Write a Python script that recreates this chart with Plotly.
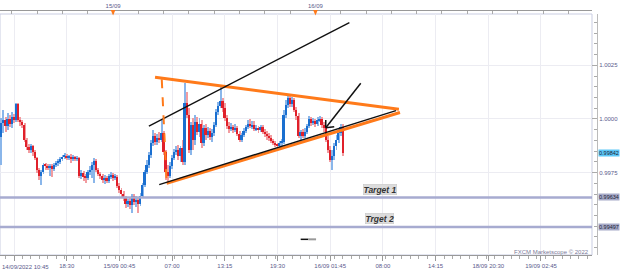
import plotly.graph_objects as go

# ---------------- data (15-min candles, x = candle index) ----------------
idx = list(range(-6, 157))

open_ = [
0.99916, 0.99981, 0.99995, 0.99967, 1.00000, 0.99977,
1.00009, 0.99995, 1.00070, 0.99995, 0.99986, 0.99972, 0.99902, 0.99869, 0.99855, 0.99874,
0.99846, 0.99818, 0.99762, 0.99734, 0.99753, 0.99786, 0.99781, 0.99772, 0.99781, 0.99767,
0.99786, 0.99795, 0.99800, 0.99814, 0.99823, 0.99828, 0.99818, 0.99823, 0.99814, 0.99823,
0.99814, 0.99818, 0.99734, 0.99748, 0.99730, 0.99725, 0.99753, 0.99762, 0.99786, 0.99804,
0.99762, 0.99744, 0.99734, 0.99716, 0.99725, 0.99711, 0.99734, 0.99739, 0.99725, 0.99730,
0.99688, 0.99669, 0.99650, 0.99632, 0.99604, 0.99618, 0.99599, 0.99641, 0.99613, 0.99623,
0.99604, 0.99641, 0.99692, 0.99753, 0.99786, 0.99832, 0.99888, 0.99921, 0.99893, 0.99911,
0.99902, 0.99935, 0.99846, 0.99753, 0.99734, 0.99781, 0.99818, 0.99846, 0.99855, 0.99828,
0.99865, 0.99800, 1.00075, 1.00019, 0.99855, 0.99972, 0.99902, 0.99986, 0.99939, 0.99977,
0.99888, 0.99958, 0.99925, 0.99944, 0.99916, 0.99935, 0.99972, 1.00033, 1.00061, 1.00084,
1.00051, 1.00005, 0.99967, 0.99953, 0.99963, 0.99949, 0.99958, 0.99930, 0.99902, 0.99925,
0.99944, 0.99963, 0.99977, 0.99967, 0.99972, 0.99953, 0.99958, 0.99949, 0.99963, 0.99939,
0.99930, 0.99921, 0.99911, 0.99897, 0.99888, 0.99879, 0.99874, 0.99888, 0.99893, 1.00019,
1.00065, 1.00098, 1.00070, 1.00089, 1.00042, 1.00014, 0.99921, 0.99939, 0.99921, 0.99939,
0.99967, 1.00000, 0.99981, 0.99991, 0.99977, 0.99995, 1.00000, 0.99972, 0.99958, 0.99902,
0.99855, 0.99809, 0.99828, 0.99874, 0.99902, 0.99935, 0.99963,
]
high = [
1.00005, 1.00042, 1.00009, 1.00028, 1.00019, 1.00033,
1.00023, 1.00075, 1.00075, 1.00009, 0.99995, 0.99981, 0.99911, 0.99883, 0.99883, 0.99879,
0.99855, 0.99823, 0.99772, 0.99762, 0.99795, 0.99795, 0.99790, 0.99790, 0.99790, 0.99795,
0.99804, 0.99814, 0.99823, 0.99832, 0.99842, 0.99837, 0.99832, 0.99837, 0.99832, 0.99828,
0.99828, 0.99823, 0.99762, 0.99758, 0.99744, 0.99762, 0.99781, 0.99800, 0.99818, 0.99814,
0.99772, 0.99753, 0.99744, 0.99739, 0.99734, 0.99744, 0.99753, 0.99748, 0.99744, 0.99739,
0.99702, 0.99678, 0.99664, 0.99641, 0.99627, 0.99637, 0.99650, 0.99650, 0.99641, 0.99637,
0.99655, 0.99702, 0.99762, 0.99809, 0.99846, 0.99902, 0.99949, 0.99935, 0.99930, 0.99939,
0.99995, 0.99944, 0.99855, 0.99786, 0.99800, 0.99832, 0.99860, 0.99874, 0.99879, 0.99874,
0.99902, 1.00168, 1.00126, 1.00051, 0.99986, 1.00005, 1.00019, 1.00009, 1.00005, 0.99995,
0.99972, 0.99977, 0.99963, 0.99958, 0.99953, 0.99986, 1.00047, 1.00079, 1.00149, 1.00098,
1.00075, 1.00019, 0.99986, 0.99981, 0.99972, 0.99977, 0.99967, 0.99944, 0.99935, 0.99958,
0.99972, 0.99995, 1.00000, 0.99991, 0.99991, 0.99972, 0.99967, 0.99972, 0.99972, 0.99953,
0.99944, 0.99935, 0.99925, 0.99907, 0.99897, 0.99888, 0.99897, 0.99907, 1.00042, 1.00089,
1.00112, 1.00107, 1.00103, 1.00098, 1.00056, 1.00028, 0.99949, 0.99953, 0.99958, 0.99977,
1.00014, 1.00009, 1.00005, 1.00000, 1.00009, 1.00014, 1.00009, 0.99986, 0.99967, 0.99921,
0.99874, 0.99855, 0.99888, 0.99925, 0.99958, 0.99977, 0.99977,
]
low = [
0.99786, 0.99935, 0.99939, 0.99949, 0.99963, 0.99958,
0.99981, 0.99986, 0.99986, 0.99967, 0.99958, 0.99893, 0.99855, 0.99842, 0.99842, 0.99828,
0.99809, 0.99748, 0.99716, 0.99692, 0.99744, 0.99762, 0.99762, 0.99734, 0.99730, 0.99758,
0.99776, 0.99781, 0.99790, 0.99804, 0.99814, 0.99809, 0.99809, 0.99795, 0.99804, 0.99804,
0.99804, 0.99725, 0.99720, 0.99711, 0.99702, 0.99716, 0.99739, 0.99725, 0.99702, 0.99753,
0.99734, 0.99720, 0.99702, 0.99697, 0.99702, 0.99702, 0.99720, 0.99711, 0.99716, 0.99678,
0.99655, 0.99637, 0.99618, 0.99585, 0.99590, 0.99581, 0.99562, 0.99599, 0.99590, 0.99562,
0.99595, 0.99632, 0.99683, 0.99744, 0.99772, 0.99818, 0.99874, 0.99879, 0.99879, 0.99888,
0.99893, 0.99832, 0.99716, 0.99702, 0.99725, 0.99767, 0.99809, 0.99832, 0.99809, 0.99800,
0.99786, 0.99786, 1.00005, 0.99842, 0.99832, 0.99855, 0.99879, 0.99925, 0.99916, 0.99865,
0.99874, 0.99902, 0.99911, 0.99902, 0.99893, 0.99921, 0.99963, 1.00019, 1.00051, 1.00033,
0.99991, 0.99953, 0.99935, 0.99944, 0.99935, 0.99939, 0.99921, 0.99893, 0.99893, 0.99916,
0.99935, 0.99953, 0.99958, 0.99953, 0.99944, 0.99944, 0.99935, 0.99939, 0.99930, 0.99916,
0.99902, 0.99897, 0.99888, 0.99879, 0.99869, 0.99865, 0.99865, 0.99874, 0.99883, 1.00005,
1.00051, 1.00056, 1.00056, 1.00033, 0.99995, 0.99911, 0.99902, 0.99911, 0.99911, 0.99930,
0.99958, 0.99967, 0.99972, 0.99963, 0.99967, 0.99986, 0.99958, 0.99939, 0.99893, 0.99842,
0.99800, 0.99762, 0.99809, 0.99855, 0.99888, 0.99921, 0.99828,
]
close = [
0.99981, 0.99995, 0.99967, 1.00000, 0.99977, 1.00009,
0.99995, 1.00070, 0.99995, 0.99986, 0.99972, 0.99902, 0.99869, 0.99855, 0.99874, 0.99846,
0.99818, 0.99762, 0.99734, 0.99753, 0.99786, 0.99781, 0.99772, 0.99781, 0.99767, 0.99786,
0.99795, 0.99800, 0.99814, 0.99823, 0.99828, 0.99818, 0.99823, 0.99814, 0.99823, 0.99814,
0.99818, 0.99734, 0.99748, 0.99730, 0.99725, 0.99753, 0.99762, 0.99786, 0.99804, 0.99762,
0.99744, 0.99734, 0.99716, 0.99725, 0.99711, 0.99734, 0.99739, 0.99725, 0.99730, 0.99688,
0.99669, 0.99650, 0.99632, 0.99604, 0.99618, 0.99599, 0.99641, 0.99613, 0.99623, 0.99604,
0.99641, 0.99692, 0.99753, 0.99786, 0.99832, 0.99888, 0.99921, 0.99893, 0.99911, 0.99902,
0.99935, 0.99846, 0.99753, 0.99734, 0.99781, 0.99818, 0.99846, 0.99855, 0.99828, 0.99865,
0.99800, 1.00075, 1.00019, 0.99855, 0.99972, 0.99902, 0.99986, 0.99939, 0.99977, 0.99888,
0.99958, 0.99925, 0.99944, 0.99916, 0.99935, 0.99972, 1.00033, 1.00061, 1.00084, 1.00051,
1.00005, 0.99967, 0.99953, 0.99963, 0.99949, 0.99958, 0.99930, 0.99902, 0.99925, 0.99944,
0.99963, 0.99977, 0.99967, 0.99972, 0.99953, 0.99958, 0.99949, 0.99963, 0.99939, 0.99930,
0.99921, 0.99911, 0.99897, 0.99888, 0.99879, 0.99874, 0.99888, 0.99893, 1.00019, 1.00065,
1.00098, 1.00070, 1.00089, 1.00042, 1.00014, 0.99921, 0.99939, 0.99921, 0.99939, 0.99967,
1.00000, 0.99981, 0.99991, 0.99977, 0.99995, 1.00000, 0.99972, 0.99958, 0.99902, 0.99855,
0.99809, 0.99828, 0.99874, 0.99902, 0.99935, 0.99963, 0.99842,
]

bottom_tick_idx = [0, 25, 50, 75, 100, 125, 150, 175, 200, 225, 250]
bottom_tick_text = ["14/09/2022 10:45", "18:30", "15/09 00:45", "07:00", "13:15", "19:30",
                    "16/09 01:45", "08:00", "14:15", "18/09 20:30", "19/09 02:45"]
top_tick_idx = [47, 143]
top_tick_text = ["15/09", "16/09"]
price_ticks = [0.9975, 1.0000, 1.0025]
price_tick_text = ["0.9975", "1.0000", "1.0025"]

last_price = 0.99842
targets = [0.99634, 0.99497]
target_names = ["Target 1", "Trget 2"]

# drawings (index, price)
upper_orange = [(66.9, 1.00194), (182.6, 1.00045)]
lower_orange = [(72.4, 0.99700), (183.1, 1.00030)]
lower_black = [(68.9, 0.99694), (181.2, 1.00039)]
upper_black = [(64.0, 0.99967), (159.1, 1.00449)]
dashed_orange = [(70.1, 1.00185), (72.4, 0.99708)]
arrow_tail = (164.5, 1.00166)
arrow_tip = (147.9, 0.99959)
arrow_arm1 = (147.9, 0.99995)
arrow_arm2 = (151.9, 0.99964)
small_seg = [(136.0, 139.6, 143.3), 0.99439]

X_RANGE = [-6.64, 274.2]
Y_RANGE = [0.99366, 1.00489]

BLUE, RED = "#1a6fd0", "#e0202a"
LBLUE, LRED = "#8ab6ea", "#f29ca0"
ORANGE = "#ff7a1a"
TXT = "#5a5a8c"
FONT = "Liberation Sans, Arial, sans-serif"

up = [c >= o for o, c in zip(open_, close)]
wick_base = low
wick_h = [h - l for h, l in zip(high, low)]
body_base = [min(o, c) for o, c in zip(open_, close)]
body_h = [max(abs(c - o), 0.00002) for o, c in zip(open_, close)]

fig = go.Figure()
fig.add_trace(go.Bar(x=idx, y=wick_h, base=wick_base, width=0.45,
                     marker=dict(color=[LBLUE if u else LRED for u in up], line=dict(width=0)),
                     hoverinfo="skip", showlegend=False))
fig.add_trace(go.Bar(x=idx, y=body_h, base=body_base, width=0.8,
                     marker=dict(color=[BLUE if u else RED for u in up], line=dict(width=0)),
                     hoverinfo="skip", showlegend=False))
# invisible trace to activate top axis
fig.add_trace(go.Scatter(x=[idx[0]], y=[close[0]], xaxis="x2", mode="markers",
                         marker=dict(opacity=0), hoverinfo="skip", showlegend=False))

shapes = []
# plot border
shapes.append(dict(type="rect", xref="x domain", yref="y domain", x0=0, x1=1, y0=0, y1=1,
                   line=dict(color="#c9cde2", width=1), layer="below"))
for t in targets:
    shapes.append(dict(type="line", xref="x domain", yref="y", x0=0, x1=1, y0=t, y1=t,
                       line=dict(color="#a7abd0", width=2.5)))

def seg(p, color, width, dash="solid"):
    return dict(type="line", xref="x", yref="y", x0=p[0][0], y0=p[0][1], x1=p[1][0], y1=p[1][1],
                line=dict(color=color, width=width, dash=dash))

shapes.append(seg(upper_orange, ORANGE, 3))
shapes.append(seg(lower_orange, ORANGE, 3))
shapes.append(seg(lower_black, "#111111", 1.4))
shapes.append(seg(upper_black, "#111111", 1.4))
shapes.append(seg(dashed_orange, ORANGE, 2, "dash"))
shapes.append(seg([arrow_tail, arrow_tip], "#111111", 1.5))
shapes.append(seg([arrow_arm1, arrow_tip], "#111111", 1.5))
shapes.append(seg([arrow_arm2, arrow_tip], "#111111", 1.5))
xs, sy = small_seg
shapes.append(seg([(xs[0], sy), (xs[1], sy)], "#111111", 1.5))
shapes.append(seg([(xs[1], sy), (xs[2], sy)], "#999999", 2))
# orange day markers on the top axis
for tx in top_tick_idx:
    shapes.append(dict(type="path", xref="x", yref="paper",
                       path=f"M {tx-1.1},1.0 L {tx+1.1},1.0 L {tx},0.978 Z",
                       fillcolor=ORANGE, line=dict(width=0)))

annotations = []
annotations.append(dict(text=bottom_tick_text[0], xref="paper", yref="paper", x=0, y=0,
                        xanchor="left", yanchor="top", yshift=-7, showarrow=False,
                        font=dict(size=6, color=TXT, family=FONT)))
for name, t, yp in zip(target_names, targets, [0.99671, 0.99534]):
    annotations.append(dict(text=f"<b><i>{name}</i></b>", xref="x", yref="y", x=173.6, y=yp,
                            showarrow=False, bgcolor="#dcdcdc", bordercolor="#c4c4c4",
                            borderwidth=0.5, borderpad=0,
                            font=dict(size=8.5, color="#333333", family=FONT)))
annotations.append(dict(text="FXCM Marketscope © 2022", xref="paper", yref="paper",
                        x=591 / 597, y=0.014, xanchor="right", yanchor="middle", showarrow=False,
                        font=dict(size=6, color="#7a7a9a", family=FONT)))
badge_vals = [last_price] + targets
badge_bg = ["#5cc8f8", "#a6aac8", "#a6aac8"]
for v, bg in zip(badge_vals, badge_bg):
    annotations.append(dict(text=f"{v:.5f}", xref="paper", yref="y", x=598 / 597, y=v,
                            xanchor="left", yanchor="middle", showarrow=False, bgcolor=bg,
                            borderpad=0, font=dict(size=5.5, color="#223", family=FONT)))

fig.update_layout(
    width=625, height=272,
    margin=dict(l=0, r=28, t=10, b=17),
    paper_bgcolor="white", plot_bgcolor="white",
    barmode="overlay", bargap=0,
    showlegend=False,
    shapes=shapes, annotations=annotations,
    xaxis=dict(domain=[0, 592 / 597], range=X_RANGE, tickmode="array",
               tickvals=bottom_tick_idx, ticktext=[""] + bottom_tick_text[1:],
               ticks="outside", ticklen=5, tickcolor="#999999", showline=True,
               linecolor="#999999", linewidth=1, showgrid=True, gridcolor="#ececf2",
               zeroline=False, tickfont=dict(size=6, color=TXT, family=FONT),
               minor=dict(tickmode="linear", tick0=0, dtick=4, ticks="outside", ticklen=3,
                          tickcolor="#aaaaaa", showgrid=False)),
    xaxis2=dict(overlaying="x", anchor="free", position=1, side="top",
                domain=[0, 592 / 597], range=X_RANGE, tickmode="array",
                tickvals=top_tick_idx, ticktext=top_tick_text, ticks="inside", ticklen=3,
                tickcolor="#999999", showline=True, linecolor="#999999", showgrid=False,
                zeroline=False, tickfont=dict(size=6, color=TXT, family=FONT),
                minor=dict(tickmode="linear", tick0=47, dtick=12, ticks="inside", ticklen=3,
                           tickcolor="#aaaaaa", showgrid=False)),
    yaxis=dict(domain=[0, 241 / 245], range=Y_RANGE, side="right", anchor="free", position=1,
               tickmode="array", tickvals=price_ticks, ticktext=price_tick_text,
               ticks="inside", ticklen=5, tickcolor="#aaaaaa", showline=True,
               linecolor="#bbbbbb", showgrid=True, gridcolor="#ececf2", zeroline=False,
               tickfont=dict(size=6, color=TXT, family=FONT),
               minor=dict(tickmode="linear", tick0=1.0, dtick=0.0005, ticks="inside",
                          ticklen=3, tickcolor="#aaaaaa", showgrid=False)),
)

fig.write_html("out.html")
